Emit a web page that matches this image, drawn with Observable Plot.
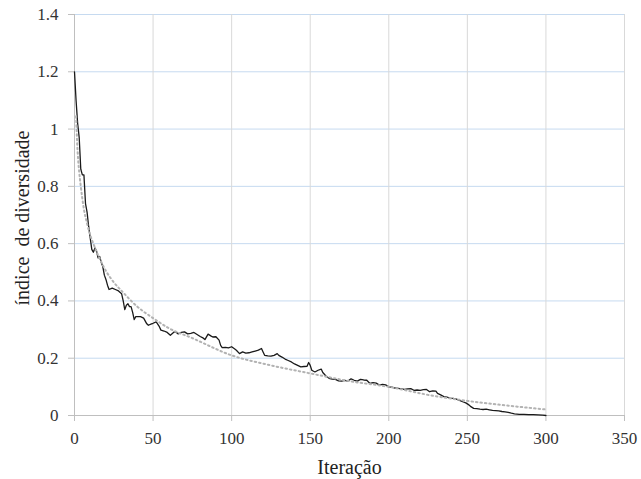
<!DOCTYPE html>
<html>
<head>
<meta charset="utf-8">
<script src="https://cdn.jsdelivr.net/npm/d3@7"></script>
<script src="https://cdn.jsdelivr.net/npm/@observablehq/plot@0.6"></script>
<style>
  html, body { margin: 0; padding: 0; background: #ffffff; }
  #chart svg { display: block; }
</style>
</head>
<body>
<div id="chart"></div>
<script>
// Diversity index per iteration
const iteracoes = [
  0, 1, 2, 3, 4, 5, 6, 7, 8, 9, 10, 11, 12, 13, 14, 15, 16, 17, 18, 19, 20, 21, 22,
  24, 26, 28, 30, 31, 32, 33, 34, 35, 36, 37, 38, 39, 40, 42, 44, 46, 47, 49, 50,
  52, 54, 55, 57, 59, 61, 63, 64, 66, 68, 70, 72, 74, 76, 78, 80, 82, 83, 85, 87,
  88, 90, 92, 93, 94, 96, 98, 100, 102, 103, 105, 107, 109, 111, 113, 115, 117,
  119, 120, 121, 123, 125, 127, 129, 130, 132, 134, 136, 138, 140, 142, 144, 146,
  148, 149, 150, 151, 153, 155, 157, 158, 160, 162, 164, 166, 168, 170, 172, 174,
  176, 178, 180, 182, 184, 186, 188, 190, 192, 194, 196, 198, 200, 202, 204, 206,
  208, 210, 212, 214, 216, 218, 220, 222, 224, 226, 228, 230, 231, 233, 235, 237,
  239, 241, 243, 245, 247, 249, 251, 252, 254, 256, 258, 260, 262, 264, 266, 268,
  270, 272, 274, 276, 278, 280, 283, 286, 289, 292, 295, 298, 300
];
const diversidade = [
  1.20, 1.10, 1.02, 0.97, 0.86, 0.84, 0.84, 0.74, 0.71, 0.66, 0.62, 0.58, 0.57, 0.585, 0.575, 0.55, 0.555, 0.535, 0.52, 0.49, 0.475, 0.455, 0.44,
  0.445, 0.44, 0.435, 0.425, 0.40, 0.37, 0.385, 0.39, 0.38, 0.38, 0.36, 0.335, 0.345, 0.345, 0.345, 0.34, 0.32, 0.315, 0.32, 0.322,
  0.327, 0.31, 0.298, 0.295, 0.29, 0.28, 0.29, 0.293, 0.285, 0.29, 0.292, 0.285, 0.287, 0.29, 0.283, 0.276, 0.27, 0.265, 0.284, 0.277,
  0.274, 0.275, 0.263, 0.245, 0.237, 0.238, 0.236, 0.24, 0.232, 0.228, 0.216, 0.222, 0.218, 0.219, 0.222, 0.225, 0.228,
  0.234, 0.222, 0.21, 0.208, 0.207, 0.21, 0.216, 0.21, 0.204, 0.197, 0.192, 0.187, 0.18, 0.175, 0.17, 0.171,
  0.172, 0.185, 0.175, 0.158, 0.152, 0.158, 0.162, 0.15, 0.138, 0.13, 0.127, 0.126, 0.121, 0.12, 0.123, 0.12,
  0.128, 0.123, 0.12, 0.126, 0.124, 0.123, 0.112, 0.115, 0.113, 0.106, 0.109, 0.107, 0.10, 0.099, 0.096, 0.095,
  0.093, 0.091, 0.093, 0.094, 0.088, 0.089, 0.088, 0.09, 0.091, 0.083, 0.086, 0.085, 0.077, 0.072, 0.066, 0.064,
  0.061, 0.06, 0.057, 0.053, 0.048, 0.044, 0.037, 0.032, 0.025, 0.024, 0.022, 0.021, 0.022, 0.02, 0.018, 0.017,
  0.016, 0.014, 0.013, 0.011, 0.008, 0.006, 0.004, 0.004, 0.003, 0.003, 0.002, 0.001, 0.0
];

// Logarithmic trend line
const tendenciaX = [1, 2, 3, 4, 6, 8, 10, 12, 15, 20, 25, 30, 40, 50, 60, 75, 100, 125, 150, 175, 200, 225, 250, 275, 300];
const tendenciaY = [1.045, 0.92, 0.85, 0.80, 0.72, 0.67, 0.63, 0.60, 0.56, 0.505, 0.465, 0.435, 0.38, 0.34, 0.305, 0.27, 0.21, 0.175, 0.147, 0.12, 0.10, 0.072, 0.051, 0.035, 0.021];

// Axis ticks
const xTicks = [0, 50, 100, 150, 200, 250, 300, 350];
const yTicks = [0, 0.2, 0.4, 0.6, 0.8, 1, 1.2, 1.4];
const yTickLabels = ["0", "0.2", "0.4", "0.6", "0.8", "1", "1.2", "1.4"];

const xLabel = "Iteração";
const yLabel = "índice  de diversidade";

const font = "'Liberation Serif', 'Times New Roman', Times, serif";
const axisGray = "#bfbfbf";

const chart = Plot.plot({
  width: 641,
  height: 479,
  marginLeft: 74,
  marginRight: 17,
  marginTop: 14,
  marginBottom: 64,
  style: { fontFamily: font, fontSize: "17px", color: "#333333", background: "#ffffff" },
  x: { domain: [0, 350] },
  y: { domain: [0, 1.4] },
  marks: [
    Plot.gridY(yTicks.filter(d => d > 0), { stroke: "#c6daf0", strokeOpacity: 1 }),
    Plot.gridX(xTicks.filter(d => d > 0), { stroke: "#d9d9d9", strokeOpacity: 1 }),
    Plot.ruleX([0], { stroke: axisGray }),
    Plot.ruleY([0], { stroke: axisGray }),
    Plot.axisX(xTicks, {
      tickSize: 6, tickPadding: 10, stroke: axisGray, fill: "#333333",
      fontSize: 17, label: null
    }),
    Plot.axisY(yTicks, {
      tickSize: 6, tickPadding: 10, stroke: axisGray, fill: "#333333",
      fontSize: 17, label: null,
      tickFormat: d => yTickLabels[yTicks.indexOf(d)]
    }),
    Plot.line(diversidade, {
      x: iteracoes, y: diversidade,
      stroke: "#1a1a1a", strokeWidth: 1.3, strokeLinejoin: "round"
    }),
    Plot.line(tendenciaY, {
      x: tendenciaX, y: tendenciaY, curve: "monotone-x",
      stroke: "#b3b3b3", strokeWidth: 2, strokeDasharray: "1.5 3"
    }),
    Plot.text([xLabel], {
      frameAnchor: "bottom", lineAnchor: "bottom", dy: 58,
      fontSize: 20, fill: "#222222"
    }),
    Plot.text([yLabel], {
      frameAnchor: "middle", rotate: -90, lineAnchor: "middle", dx: -327, dy: 3,
      fontSize: 20, fill: "#222222"
    })
  ]
});

document.getElementById("chart").appendChild(chart);
</script>
</body>
</html>
